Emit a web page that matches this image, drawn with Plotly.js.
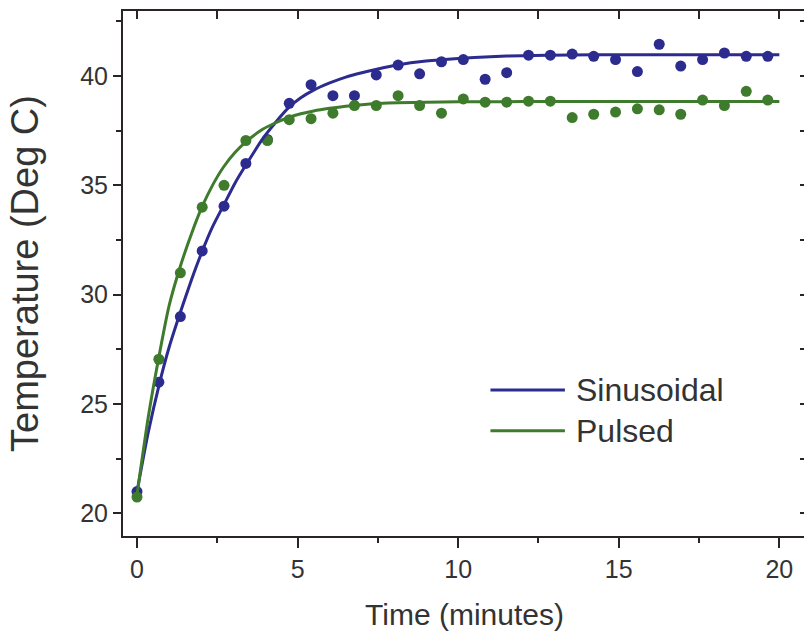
<!DOCTYPE html>
<html><head><meta charset="utf-8">
<script src="https://cdn.plot.ly/plotly-3.0.1.min.js"></script>
<style>html,body{margin:0;padding:0;overflow:hidden;background:#fff}</style>
</head><body><div id="chart"></div>
<script>
// Measured data (minutes, deg C)
const time = [0, 0.68, 1.35, 2.03, 2.71, 3.39, 4.06, 4.74, 5.42, 6.1, 6.77, 7.45, 8.13, 8.8, 9.48, 10.16, 10.84, 11.51, 12.19, 12.87, 13.55, 14.22, 14.9, 15.58, 16.26, 16.93, 17.61, 18.29, 18.97, 19.64];
const sinusoidal = [21.0, 26.0, 29.0, 32.0, 34.05, 36.0, 37.1, 38.75, 39.6, 39.1, 39.1, 40.05, 40.5, 40.1, 40.65, 40.75, 39.85, 40.15, 40.95, 40.95, 41.0, 40.9, 40.75, 40.2, 41.45, 40.45, 40.75, 41.05, 40.9, 40.9];
const pulsed = [20.75, 27.05, 31.0, 34.0, 35.0, 37.05, 37.05, 38.0, 38.05, 38.3, 38.65, 38.65, 39.1, 38.65, 38.3, 38.95, 38.8, 38.8, 38.85, 38.85, 38.1, 38.25, 38.35, 38.5, 38.45, 38.25, 38.9, 38.65, 39.3, 38.9];

// Fitted curves
const fitTime = [0, 0.35, 0.7, 1.0, 1.35, 1.7, 2.02, 2.35, 2.7, 3.05, 3.4, 3.9, 4.3, 4.72, 5.1, 5.5, 6.0, 6.5, 7.0, 7.5, 8.1, 9.0, 10, 11, 12, 13.5, 15, 17, 20];
const sinusoidalFit = [21.0, 23.7, 25.95, 27.6, 29.2, 30.7, 31.95, 33.1, 34.1, 35.1, 35.95, 37.1, 37.85, 38.55, 39.0, 39.35, 39.68, 39.95, 40.15, 40.32, 40.5, 40.68, 40.8, 40.88, 40.93, 40.96, 40.97, 40.97, 40.97];
const pulsedFit = [20.85, 24.4, 27.3, 29.5, 31.3, 32.8, 34.0, 35.0, 35.85, 36.5, 37.0, 37.55, 37.85, 38.1, 38.27, 38.4, 38.52, 38.62, 38.69, 38.74, 38.78, 38.8, 38.82, 38.82, 38.83, 38.83, 38.83, 38.83, 38.83];

const seriesNames = ['Sinusoidal', 'Pulsed'];
const xTickVals = [0, 5, 10, 15, 20];
const xTickText = ['0', '5', '10', '15', '20'];
const yTickVals = [20, 25, 30, 35, 40];
const yTickText = ['20', '25', '30', '35', '40'];

const BLUE = '#2c2b8e';
const GREEN = '#3e7b2c';
const AXC = '#2a2428';
const FONT = 'Liberation Sans, Arial, Helvetica, sans-serif';

const traces = [
  {x: time, y: sinusoidal, mode: 'markers', marker: {color: BLUE, size: 11}, showlegend: false, name: seriesNames[0]},
  {x: time, y: pulsed, mode: 'markers', marker: {color: GREEN, size: 11}, showlegend: false, name: seriesNames[1]},
  {x: fitTime, y: sinusoidalFit, mode: 'lines', line: {color: BLUE, width: 3, shape: 'spline', smoothing: 0.6}, showlegend: false, name: seriesNames[0]},
  {x: fitTime, y: pulsedFit, mode: 'lines', line: {color: GREEN, width: 3, shape: 'spline', smoothing: 0.6}, showlegend: false, name: seriesNames[1]},
  {x: [null], y: [null], xaxis: 'x2', yaxis: 'y2', mode: 'markers', showlegend: false, hoverinfo: 'skip'}
];

const xr = [-0.436, 20.83];
const yr = [18.97, 42.97];

const layout = {
  width: 812, height: 632,
  margin: {l: 123, r: 6, t: 11, b: 96},
  paper_bgcolor: '#ffffff', plot_bgcolor: '#ffffff',
  font: {family: FONT, color: '#333333'},
  showlegend: false,
  xaxis: {
    range: xr, showgrid: false, zeroline: false,
    showline: true, linecolor: AXC, linewidth: 2,
    ticks: 'outside', ticklen: 10, tickwidth: 2, tickcolor: AXC,
    tickvals: xTickVals, ticktext: xTickText,
    tickfont: {size: 25, color: '#333333', family: FONT},
    minor: {tickvals: [2.5, 7.5, 12.5, 17.5], ticks: 'outside', ticklen: 5, tickwidth: 2, tickcolor: AXC, showgrid: false},
    title: {text: 'Time (minutes)', font: {size: 30, color: '#333333', family: FONT}, standoff: 22}
  },
  xaxis2: {
    overlaying: 'x', side: 'top', range: xr, showgrid: false, zeroline: false,
    showline: true, linecolor: AXC, linewidth: 2,
    ticks: 'inside', ticklen: 8, tickwidth: 2, tickcolor: AXC,
    tickvals: [0, 2.5, 5, 7.5, 10, 12.5, 15, 17.5, 20], showticklabels: false
  },
  yaxis: {
    range: yr, showgrid: false, zeroline: false,
    showline: true, linecolor: AXC, linewidth: 2,
    ticks: 'outside', ticklen: 8, tickwidth: 2, tickcolor: AXC,
    tickvals: yTickVals, ticktext: yTickText,
    tickfont: {size: 25, color: '#333333', family: FONT},
    minor: {tickvals: [22.5, 27.5, 32.5, 37.5, 42.5], ticks: 'outside', ticklen: 5, tickwidth: 2, tickcolor: AXC, showgrid: false},
    title: {text: 'Temperature (Deg C)', font: {size: 38, color: '#333333', family: FONT}, standoff: 30}
  },
  yaxis2: {
    overlaying: 'y', side: 'right', range: yr, showgrid: false, zeroline: false,
    showline: true, linecolor: AXC, linewidth: 2,
    ticks: 'inside', ticklen: 6, tickwidth: 2, tickcolor: AXC,
    tickvals: [20, 22.5, 25, 27.5, 30, 32.5, 35, 37.5, 40, 42.5], showticklabels: false
  },
  shapes: [
    {type: 'line', xref: 'paper', yref: 'paper', x0: 0.538, x1: 0.647, y0: 0.278, y1: 0.278, line: {color: BLUE, width: 3}},
    {type: 'line', xref: 'paper', yref: 'paper', x0: 0.538, x1: 0.647, y0: 0.2006, y1: 0.2006, line: {color: GREEN, width: 3}}
  ],
  annotations: [
    {xref: 'paper', yref: 'paper', x: 0.660, y: 0.278, xanchor: 'left', yanchor: 'middle', text: seriesNames[0], showarrow: false, font: {size: 32, color: '#333333', family: FONT}},
    {xref: 'paper', yref: 'paper', x: 0.660, y: 0.2006, xanchor: 'left', yanchor: 'middle', text: seriesNames[1], showarrow: false, font: {size: 32, color: '#333333', family: FONT}}
  ]
};

Plotly.newPlot('chart', traces, layout, {displayModeBar: false, staticPlot: true});
</script>
</body></html>
